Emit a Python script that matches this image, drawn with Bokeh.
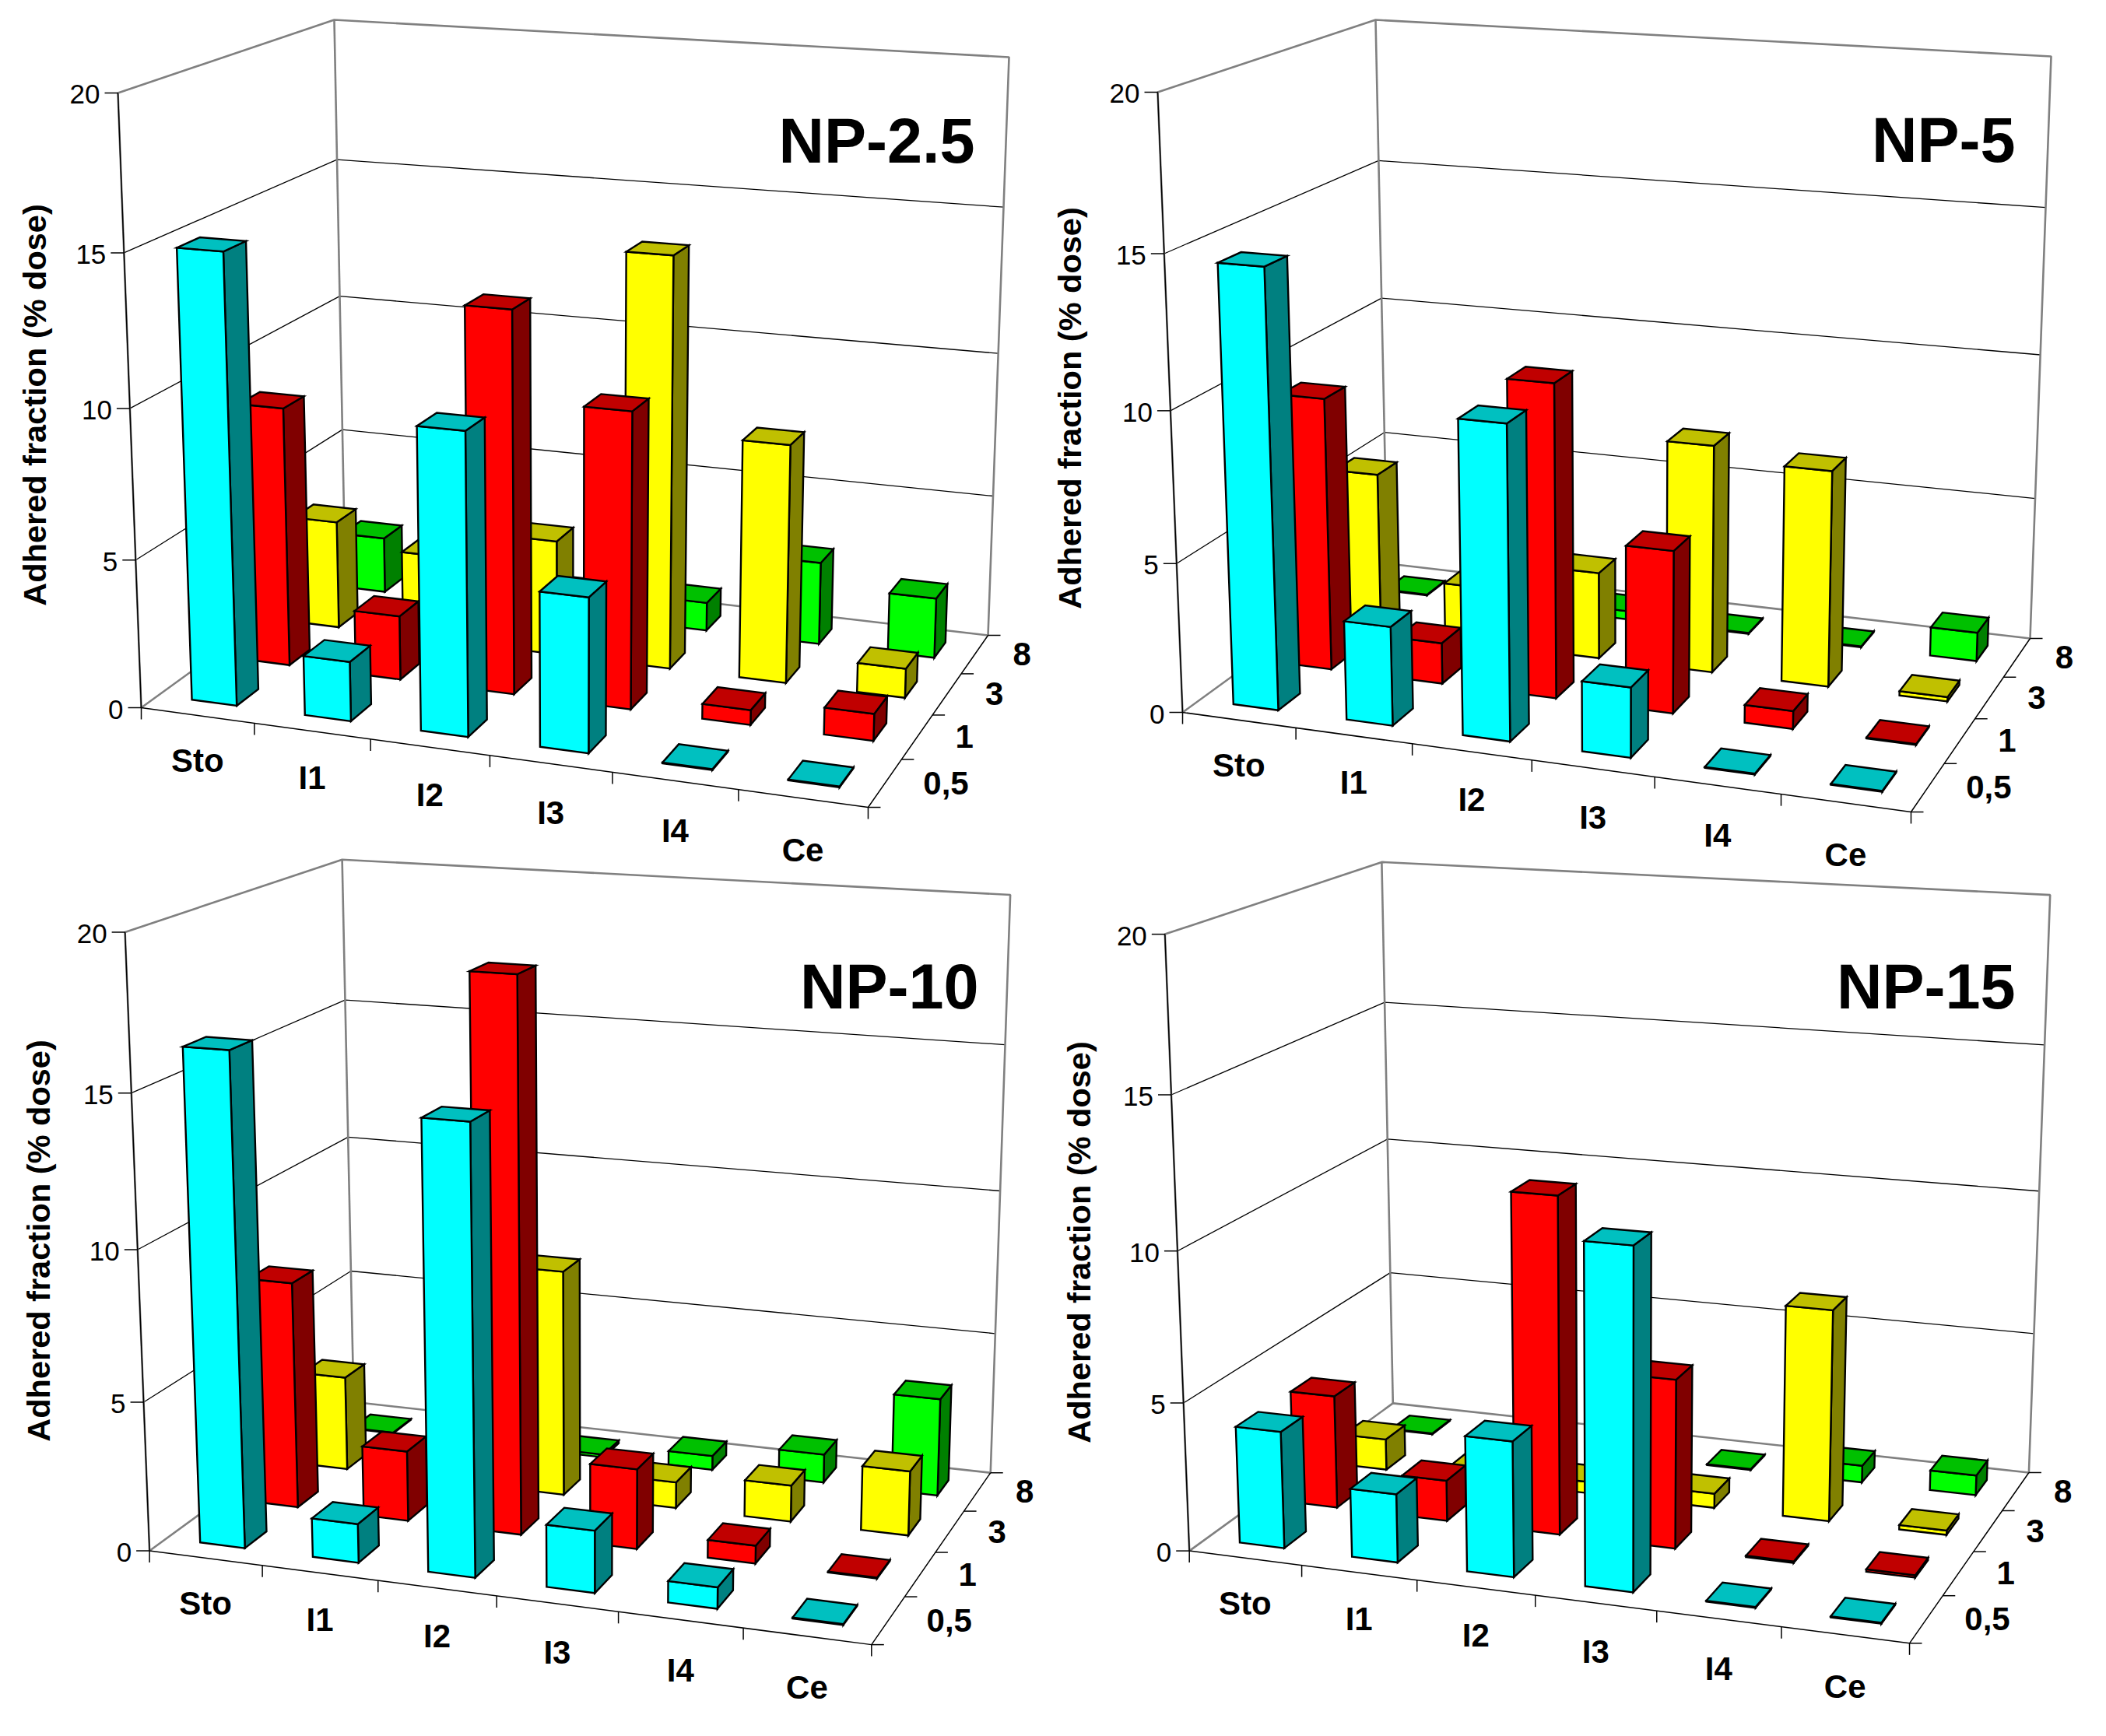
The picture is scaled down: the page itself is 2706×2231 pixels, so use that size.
import numpy as np
from bokeh.plotting import figure
from bokeh.models import ColumnDataSource, Range1d
from bokeh.core.properties import value
from bokeh.embed import file_html
from bokeh.resources import INLINE

CATEGORIES = ["Sto", "I1", "I2", "I3", "I4", "Ce"]
TIMES = ["0,5", "1", "3", "8"]
Y_TICKS = [0, 5, 10, 15, 20]
Y_TITLE = "Adhered fraction (% dose)"

# Adhered fraction per compartment, one list per time point (front to back)
NP25_T05 = [15.0, 2.0, 10.0, 5.1, 0.03, 0.03]
NP25_T1 = [8.9, 2.2, 12.9, 9.95, 0.5, 0.9]
NP25_T3 = [3.8, 3.0, 4.0, 14.1, 8.15, 1.0]
NP25_T8 = [2.0, 0.6, 0.8, 1.0, 2.9, 2.1]

NP5_T05 = [14.55, 3.3, 10.3, 2.3, 0.03, 0.03]
NP5_T1 = [9.3, 1.4, 10.55, 5.45, 0.6, 0.03]
NP5_T3 = [5.6, 2.0, 3.0, 7.8, 7.35, 0.15]
NP5_T8 = [0.03, 0.2, 0.3, 0.03, 0.03, 1.0]

NP10_T05 = [16.3, 1.3, 14.65, 2.05, 0.7, 0.03]
NP10_T1 = [7.75, 2.4, 18.45, 2.7, 0.6, 0.03]
NP10_T3 = [3.3, 0.6, 7.8, 0.9, 1.25, 2.2]
NP10_T8 = [0.03, 0.1, 0.1, 0.5, 1.0, 3.4]

NP15_T05 = [3.95, 2.3, 4.5, 11.15, 0.03, 0.03]
NP15_T1 = [3.9, 1.4, 11.4, 5.7, 0.05, 0.08]
NP15_T3 = [1.1, 0.4, 0.4, 0.5, 7.25, 0.15]
NP15_T8 = [0.03, 0.1, 0.1, 0.03, 0.6, 0.7]

PANELS = [
    dict(title="NP-2.5", series=[NP25_T05, NP25_T1, NP25_T3, NP25_T8],
         flb=(189, 917), frb=(1123, 1045), brb=(1277, 824),
         flt=(159, 127), blt=(437, 33), brt=(1304, 81),
         title_xy=(1260, 188), ytitle_xy=(52, 528)),
    dict(title="NP-5", series=[NP5_T05, NP5_T1, NP5_T3, NP5_T8],
         flb=(1527, 923), frb=(2463, 1051), brb=(2616, 828),
         flt=(1495, 126), blt=(1775, 33), brt=(2643, 80),
         title_xy=(2597, 187), ytitle_xy=(1382, 532)),
    dict(title="NP-10", series=[NP10_T05, NP10_T1, NP10_T3, NP10_T8],
         flb=(200, 2001), frb=(1126, 2122), brb=(1281, 1899),
         flt=(169, 1204), blt=(446, 1113), brt=(1306, 1158),
         title_xy=(1265, 1275), ytitle_xy=(57, 1602)),
    dict(title="NP-15", series=[NP15_T05, NP15_T1, NP15_T3, NP15_T8],
         flb=(1536, 2001), frb=(2460, 2120), brb=(2615, 1899),
         flt=(1505, 1207), blt=(1782, 1116), brt=(2642, 1158),
         title_xy=(2597, 1275), ytitle_xy=(1394, 1604)),
]

FRONT = ["#00FFFF", "#FF0000", "#FFFF00", "#00FF00"]
TOP = ["#00C0C0", "#C00000", "#C0C000", "#00C000"]
SIDE = ["#008080", "#800000", "#808000", "#008000"]
GAP = 0.3
FONT = "Liberation Sans"

W, H = 2690, 2215
p = figure(width=W, height=H, output_backend="svg", toolbar_location=None,
           x_range=Range1d(8, 8 + W), y_range=Range1d(8 + H, 8), min_border=0,
           background_fill_color="white", border_fill_color="white", outline_line_color=None)
p.xaxis.visible = False
p.yaxis.visible = False
p.xgrid.visible = False
p.ygrid.visible = False


def camera(pn):
    nu, nd, top = len(CATEGORIES), len(TIMES), Y_TICKS[-1]
    world = [((0, 0, 0), pn["flb"]), ((nu, 0, 0), pn["frb"]), ((nu, nd, 0), pn["brb"]),
             ((0, 0, top), pn["flt"]), ((0, nd, top), pn["blt"]),
             ((nu, nd, top), pn["brt"])]
    A, b = [], []
    for (X, Y, Z), (sx, sy) in world:
        A.append([X, Y, Z, 1, 0, 0, 0, 0, -sx * X, -sx * Y, -sx * Z])
        A.append([0, 0, 0, 0, X, Y, Z, 1, -sy * X, -sy * Y, -sy * Z])
        b += [sx, sy]
    s = np.linalg.lstsq(np.array(A, float), np.array(b, float), rcond=None)[0]
    P = np.append(s, 1.0).reshape(3, 4)

    def proj(u, d, v):
        q = P @ np.array([u, d, v, 1.0])
        return q[0] / q[2], q[1] / q[2]
    return proj


def poly(proj, pts):
    xy = [proj(*q) for q in pts]
    return [a for a, _ in xy], [b for _, b in xy]


for pn in PANELS:
    proj = camera(pn)
    nu, nd, top = len(CATEGORIES), len(TIMES), Y_TICKS[-1]

    # walls: thin grid lines
    gx, gy = [], []
    for v in Y_TICKS[1:-1]:
        a, b = poly(proj, [(0, 0, v), (0, nd, v), (nu, nd, v)])
        gx.append(a)
        gy.append(b)
    p.multi_line(gx, gy, line_color="black", line_width=1.3)

    # walls: grey frame
    a, b = poly(proj, [(0, 0, 0), (0, 0, top), (0, nd, top), (nu, nd, top), (nu, nd, 0), (0, nd, 0), (0, 0, 0)])
    c, d = poly(proj, [(0, nd, 0), (0, nd, top)])
    p.multi_line([a, c], [b, d], line_color="#808080", line_width=2.6)

    # axes and ticks
    ax, ay = [], []
    a, b = poly(proj, [(0, 0, top), (0, 0, 0), (nu, 0, 0), (nu, nd, 0)])
    ax.append(a)
    ay.append(b)
    for v in Y_TICKS:
        x0, y0 = proj(0, 0, v)
        ax.append([x0 - 17, x0])
        ay.append([y0, y0])
    for i in range(nu + 1):
        x0, y0 = proj(i, 0, 0)
        ax.append([x0, x0])
        ay.append([y0, y0 + 15])
    for j in range(nd + 1):
        x0, y0 = proj(nu, j, 0)
        ax.append([x0, x0 + 16])
        ay.append([y0, y0])
    p.multi_line(ax, ay, line_color="black", line_width=1.5)

    # bars, back row first
    xs, ys, fills = [], [], []
    for j in reversed(range(nd)):
        for i in range(nu):
            v = pn["series"][j][i]
            u0, u1, d0, d1 = i + GAP, i + 1 - GAP, j + GAP, j + 1 - GAP
            faces = [
                ([(u1, d0, 0), (u1, d1, 0), (u1, d1, v), (u1, d0, v)], SIDE[j]),
                ([(u0, d0, 0), (u1, d0, 0), (u1, d0, v), (u0, d0, v)], FRONT[j]),
                ([(u0, d0, v), (u1, d0, v), (u1, d1, v), (u0, d1, v)], TOP[j]),
            ]
            for pts, col in faces:
                a, b = poly(proj, pts)
                xs.append(a)
                ys.append(b)
                fills.append(col)
    p.patches("xs", "ys", fill_color="fills", line_color="black", line_width=2.4,
              line_join="miter", source=ColumnDataSource(dict(xs=xs, ys=ys, fills=fills)))

    # y tick labels
    tx, ty, tt = [], [], []
    for v in Y_TICKS:
        x0, y0 = proj(0, 0, v)
        tx.append(x0 - 23)
        ty.append(y0 + 2)
        tt.append(str(v))
    p.text(tx, ty, text=tt, text_font=value(FONT), text_font_size="35px",
           text_align="right", text_baseline="middle", text_color="black")

    # category labels
    tx, ty, tt = [], [], []
    for i, name in enumerate(CATEGORIES):
        x0, y0 = proj(i + 0.5, 0, 0)
        tx.append(x0)
        ty.append(y0 + 58 + 1.6 * i)
        tt.append(name)
    p.text(tx, ty, text=tt, text_font=value(FONT), text_font_size="42px", text_font_style="bold",
           text_align="center", text_baseline="middle", text_color="black")

    # time labels
    tx, ty, tt = [], [], []
    for j, name in enumerate(TIMES):
        x0, y0 = proj(nu, j + 0.5, 0)
        tx.append(x0 + 49)
        ty.append(y0)
        tt.append(name)
    p.text(tx, ty, text=tt, text_font=value(FONT), text_font_size="42px", text_font_style="bold",
           text_align="left", text_baseline="middle", text_color="black")

    # y title and panel title
    p.text([pn["ytitle_xy"][0]], [pn["ytitle_xy"][1]], text=[Y_TITLE], angle=np.pi / 2,
           text_font=value(FONT), text_font_size="41.5px", text_font_style="bold",
           text_align="center", text_baseline="middle", text_color="black")
    p.text([pn["title_xy"][0]], [pn["title_xy"][1]], text=[pn["title"]],
           text_font=value(FONT), text_font_size="81px", text_font_style="bold",
           text_align="right", text_baseline="middle", text_color="black")

open("out.html", "w").write(file_html(p, INLINE))
